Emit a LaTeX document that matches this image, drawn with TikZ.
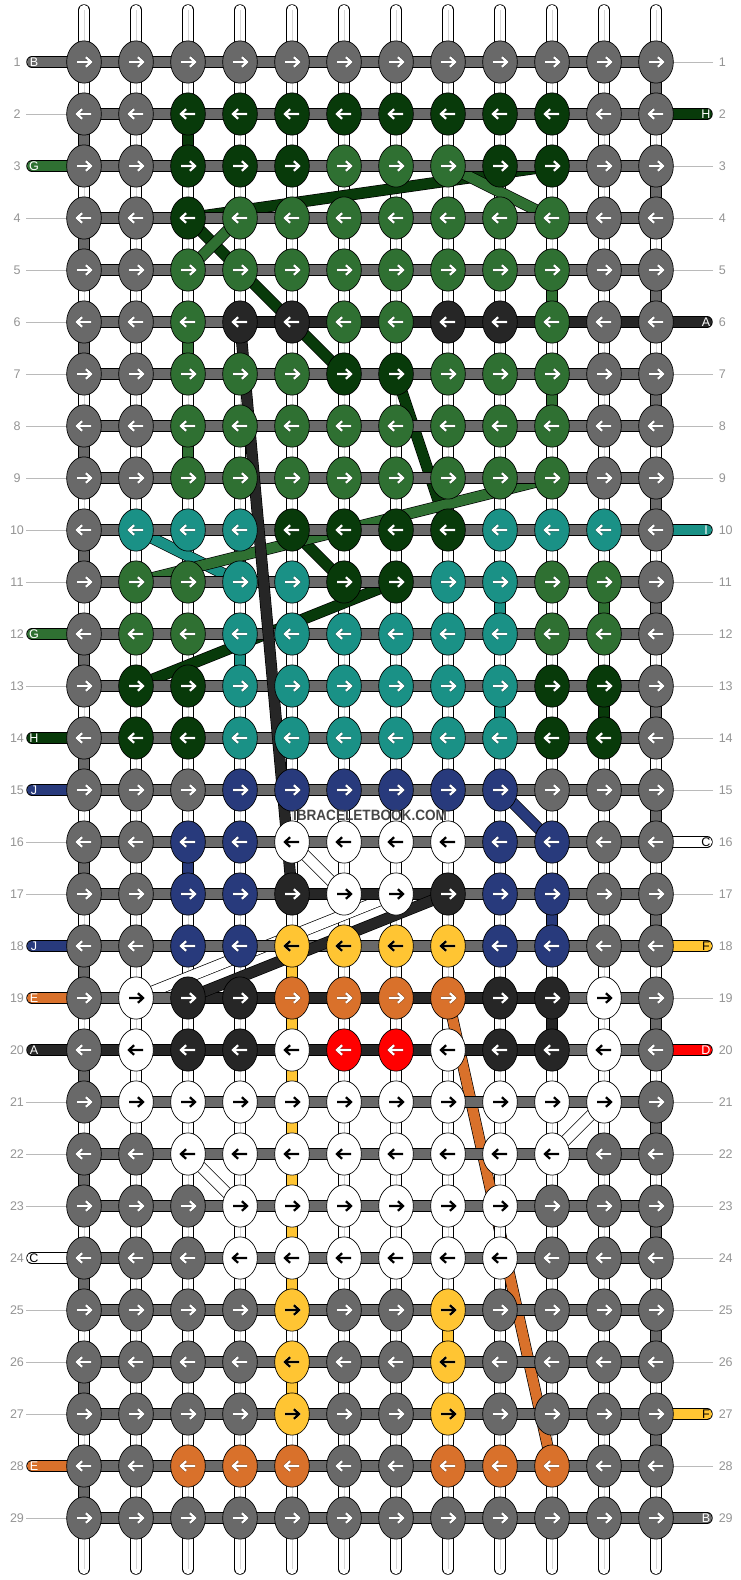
\documentclass[tikz,border=0pt]{standalone}
\usepackage{graphicx}
\usepackage{fontspec}
\setmainfont{Liberation Sans}
\usetikzlibrary{shapes.geometric}
\pgfdeclarelayer{vert}\pgfdeclarelayer{under}\pgfdeclarelayer{horiz}\pgfdeclarelayer{over}
\pgfsetlayers{vert,under,horiz,over,main}
\definecolor{cx}{HTML}{696969}
\definecolor{cH}{HTML}{083A0A}
\definecolor{cG}{HTML}{2F7032}
\definecolor{cA}{HTML}{262626}
\definecolor{cT}{HTML}{1A9186}
\definecolor{cJ}{HTML}{283A7C}
\definecolor{cW}{HTML}{FFFFFF}
\definecolor{cY}{HTML}{FFC533}
\definecolor{cO}{HTML}{D9712B}
\definecolor{cR}{HTML}{FF0000}
\definecolor{ax}{HTML}{FFFFFF}\colorlet{aH}{ax}\colorlet{aG}{ax}\colorlet{aA}{ax}\colorlet{aT}{ax}\colorlet{aJ}{ax}\colorlet{aO}{ax}\colorlet{aR}{ax}
\colorlet{aW}{black}\colorlet{aY}{black}
\colorlet{hx}{black}\colorlet{hH}{black}\colorlet{hG}{black}\colorlet{hA}{black}\colorlet{hT}{black}\colorlet{hJ}{black}\colorlet{hO}{black}\colorlet{hR}{black}
\colorlet{hW}{white}\colorlet{hY}{white}
\colorlet{numgray}{black!42}
\tikzset{
  knot/.style={ellipse,draw=black,line width=.5pt,minimum width=26pt,minimum height=31.7pt,inner sep=0pt},
  thread/.style={draw=black,line width=.5pt,double=#1,double distance=7.6pt},
  tube/.style={thread=#1,line cap=round},
  centreline/.style={draw=black!16,line width=.7pt},
  guide/.style={draw=black!27,line width=.7pt},
  num/.style={text=numgray,font=\fontsize{9.4pt}{11pt}\selectfont,inner sep=0pt},
  endlabel/.style={font=\fontsize{9.4pt}{11pt}\selectfont,inner sep=0pt},
  arrowline/.style={line width=1.7pt,line join=miter},
  arrowhalo/.style={line width=2.5pt,line join=miter,opacity=.35},
  wmark/.style={font=\bfseries\fontsize{11.2pt}{13pt}\selectfont,text=black!72,inner sep=0pt}
}
\begin{document}
\begin{tikzpicture}[x=.75pt,y=-.75pt]
\useasboundingbox (0,0) rectangle (740,1580);
% knots
\foreach \r/\cols in {
1/{x,x,x,x,x,x,x,x,x,x,x,x},
2/{x,x,H,H,H,H,H,H,H,H,x,x},
3/{x,x,H,H,H,G,G,G,H,H,x,x},
4/{x,x,H,G,G,G,G,G,G,G,x,x},
5/{x,x,G,G,G,G,G,G,G,G,x,x},
6/{x,x,G,A,A,G,G,A,A,G,x,x},
7/{x,x,G,G,G,H,H,G,G,G,x,x},
8/{x,x,G,G,G,G,G,G,G,G,x,x},
9/{x,x,G,G,G,G,G,G,G,G,x,x},
10/{x,T,T,T,H,H,H,H,T,T,T,x},
11/{x,G,G,T,T,H,H,T,T,G,G,x},
12/{x,G,G,T,T,T,T,T,T,G,G,x},
13/{x,H,H,T,T,T,T,T,T,H,H,x},
14/{x,H,H,T,T,T,T,T,T,H,H,x},
15/{x,x,x,J,J,J,J,J,J,x,x,x},
16/{x,x,J,J,W,W,W,W,J,J,x,x},
17/{x,x,J,J,A,W,W,A,J,J,x,x},
18/{x,x,J,J,Y,Y,Y,Y,J,J,x,x},
19/{x,W,A,A,O,O,O,O,A,A,W,x},
20/{x,W,A,A,W,R,R,W,A,A,W,x},
21/{x,W,W,W,W,W,W,W,W,W,W,x},
22/{x,x,W,W,W,W,W,W,W,W,x,x},
23/{x,x,x,W,W,W,W,W,W,x,x,x},
24/{x,x,x,W,W,W,W,W,W,x,x,x},
25/{x,x,x,x,Y,x,x,Y,x,x,x,x},
26/{x,x,x,x,Y,x,x,Y,x,x,x,x},
27/{x,x,x,x,Y,x,x,Y,x,x,x,x},
28/{x,x,O,O,O,x,x,O,O,O,x,x},
29/{x,x,x,x,x,x,x,x,x,x,x,x}}{
  \pgfmathsetmacro\yy{62+52*(\r-1)}
  \pgfmathsetmacro\dd{2*mod(\r,2)-1}
  \foreach \k [count=\c] in \cols {
    \pgfmathsetmacro\xx{84+52*(\c-1)}
    \node[knot,fill=c\k] (k-\r-\c) at (\xx,\yy) {};
    \begin{scope}[shift={(k-\r-\c.center)},xscale=\dd]
      \draw[arrowhalo,draw=h\k] (-7,0) -- (6.5,0) (2,-4.8) -- (7,0) -- (2,4.8);
      \draw[arrowline,draw=a\k] (-7,0) -- (6.5,0) (2,-4.8) -- (7,0) -- (2,4.8);
    \end{scope}
  }
  \coordinate (lt-\r) at (26,\yy);
  \coordinate (lc-\r) at (32,\yy);
  \coordinate (rt-\r) at (713,\yy);
  \coordinate (rc-\r) at (707,\yy);
  \node[num] (ln-\r) at (17,\yy) {\r};
  \node[num,anchor=west] (rn-\r) at (718.5,\yy) {\r};
}
% vertical threads
\foreach \c in {1,...,12}{
  \pgfmathsetmacro\xx{84+52*(\c-1)}
  \coordinate (top-\c) at (\xx,10);
  \coordinate (bot-\c) at (\xx,1569);
  \begin{pgfonlayer}{vert}
    \draw[tube=white] (top-\c) -- (k-1-\c.center);
    \draw[centreline] (top-\c) -- (k-1-\c.center);
    \draw[tube=white] (bot-\c) -- (k-29-\c.center);
    \draw[centreline] (bot-\c) -- (k-29-\c.center);
    \foreach \r [evaluate=\r as \n using int(\r+1)] in {1,...,28}{
      \draw[thread=white] (k-\r-\c.center) -- (k-\n-\c.center);
      \draw[centreline] (k-\r-\c.center) -- (k-\n-\c.center);
    }
  \end{pgfonlayer}
}
\begin{pgfonlayer}{vert}
\foreach \r/\c/\k in {
1/12/x,2/1/x,2/3/H,3/12/x,4/1/x,5/10/G,5/12/x,6/1/x,6/3/G,7/10/G,7/12/x,8/1/x,8/3/G,9/12/x,
10/1/x,11/9/T,11/11/G,11/12/x,12/1/x,12/4/T,13/9/T,13/11/H,13/12/x,14/1/x,15/12/x,
16/1/x,16/3/J,17/10/J,17/12/x,18/1/x,18/5/Y,19/5/Y,19/10/A,19/12/x,
20/1/x,20/5/Y,21/5/Y,21/12/x,22/1/x,22/5/Y,23/5/Y,23/12/x,24/1/x,24/5/Y,
25/8/Y,25/12/x,26/1/x,26/5/Y,27/12/x,28/1/x}{
  \pgfmathtruncatemacro\n{\r+1}
  \draw[thread=c\k] (k-\r-\c.center) -- (k-\n-\c.center);
}
\end{pgfonlayer}
% horizontal threads
\begin{pgfonlayer}{horiz}
\foreach \r in {1,...,29}{
  \foreach \c [evaluate=\c as \n using int(\c+1)] in {1,...,11}{
    \draw[thread=cx] (k-\r-\c.center) -- (k-\r-\n.center);
  }
}
\foreach \r/\a/\b in {6/4/11,17/5/7,19/3/9,20/1/9}{
  \foreach \c [evaluate=\c as \n using int(\c+1)] in {\a,...,\b}{
    \draw[thread=cA] (k-\r-\c.center) -- (k-\r-\n.center);
  }
}
% end threads and guide lines
\foreach \r/\k in {1/x,3/G,12/G,14/H,15/J,18/J,19/O,20/A,24/W,28/O}{
  \draw[tube=c\k] (lc-\r) -- (k-\r-1.center);
}
\foreach \r/\k in {2/H,6/A,10/T,16/W,18/Y,20/R,27/Y,29/x}{
  \draw[tube=c\k] (rc-\r) -- (k-\r-12.center);
}
\end{pgfonlayer}
\begin{pgfonlayer}{vert}
\foreach \r in {2,4,5,6,7,8,9,10,11,13,16,17,21,22,23,25,26,27,29}{
  \draw[guide] (lt-\r) -- (k-\r-1.center);
}
\foreach \r in {1,3,4,5,7,8,9,11,12,13,14,15,17,19,21,22,23,24,25,26,28}{
  \draw[guide] (rt-\r) -- (k-\r-12.center);
}
\end{pgfonlayer}
% long threads
\begin{pgfonlayer}{under}
\draw[thread=cH] (k-4-3.center) -- (k-3-10.center);
\draw[thread=cG] (k-3-8.center) -- (k-4-10.center);
\draw[thread=cH] (k-4-3.center) -- (k-7-6.center);
\draw[thread=cG] (k-4-4.center) -- (k-5-3.center);
\draw[thread=cH] (k-7-7.center) -- (k-10-8.center);
\draw[thread=cT] (k-10-2.center) -- (k-11-4.center);
\draw[thread=cH] (k-10-5.center) -- (k-11-6.center);
\draw[thread=cG] (k-9-10.center) -- (k-11-2.center);
\draw[thread=cH] (k-11-7.center) -- (k-13-2.center);
\draw[thread=cJ] (k-15-9.center) -- (k-16-10.center);
\draw[thread=cW] (k-17-7.center) -- (k-19-2.center);
\draw[thread=cW] (k-21-11.center) -- (k-22-10.center);
\draw[thread=cW] (k-22-3.center) -- (k-23-4.center);
\draw[thread=cO] (k-19-8.center) -- (k-28-10.center);
\draw[thread=white] (k-23-9.center) -- (k-24-9.center);
\draw[centreline] (k-23-9.center) -- (k-24-9.center);
\end{pgfonlayer}
\begin{pgfonlayer}{over}
\draw[thread=cA] (k-6-4.center) -- (k-17-5.center);
\draw[thread=cA] (k-17-8.center) -- (k-19-3.center);
\draw[thread=cW] (k-16-5.center) -- (k-17-6.center);
\end{pgfonlayer}
% end labels
\foreach \r/\t/\k in {1/B/white,3/G/white,12/G/white,14/H/white,15/J/white,18/J/white,19/E/white,20/A/white,24/C/black,28/E/white}{
  \node[endlabel,text=\k] (el-\r) at ([xshift=1.5pt]lc-\r) {\t};
}
\foreach \r/\t/\k in {2/H/white,6/A/white,10/I/white,16/C/black,18/F/black,20/D/white,27/F/black,29/B/white}{
  \node[endlabel,text=\k] (er-\r) at ([xshift=-.75pt]rc-\r) {\t};
}
\node[wmark] (wm) at (370,815) {\scalebox{.91}[1]{IBRACELETBOOK.COM}};
\end{tikzpicture}
\end{document}
